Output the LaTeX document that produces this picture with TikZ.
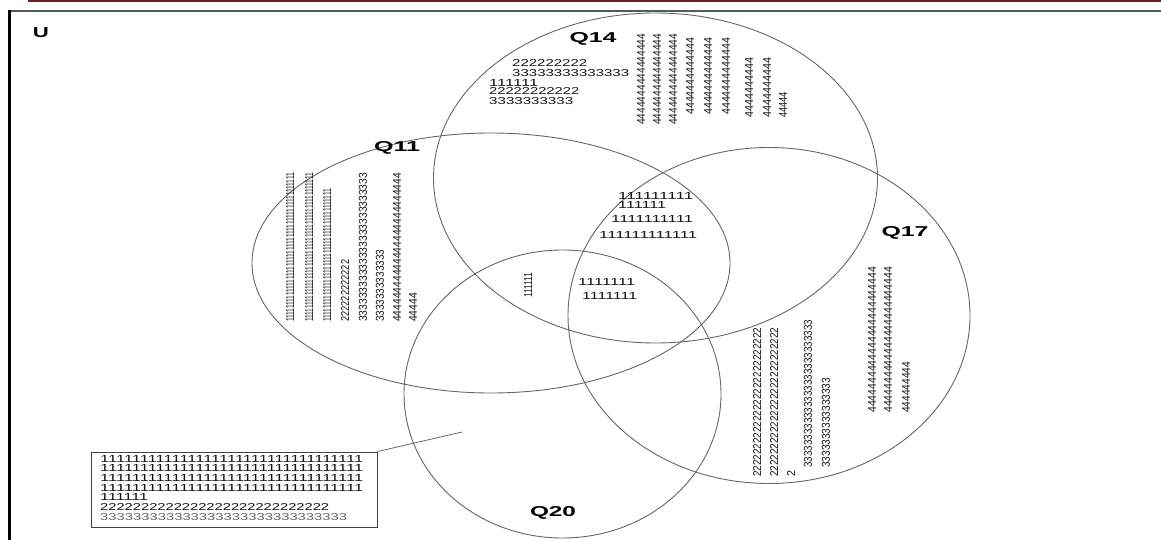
\documentclass[tikz,border=0pt]{standalone}
\usepackage{graphicx}
\usepackage{fontspec}
\setmainfont{Liberation Sans}
\usetikzlibrary{shapes.geometric}
\ExplSyntaxOn
\NewDocumentCommand{\rep}{mm}{\prg_replicate:nn{#1}{#2}}
\ExplSyntaxOff
\definecolor{venngray}{HTML}{666666}
\definecolor{numcol}{HTML}{141414}
\definecolor{topred}{HTML}{6B1E1E}
\newcommand{\hn}[2]{\resizebox{#1pt}{7pt}{#2}}
\newcommand{\vn}[2]{\resizebox{#1pt}{8pt}{#2}}
\newcommand{\lb}[2]{\resizebox{#1pt}{10pt}{\bfseries #2}}
\begin{document}
\begin{tikzpicture}[x=1pt,y=-1pt,
  venn/.style={draw=venngray, line width=0.9pt, ellipse, inner sep=0pt},
  lbl/.style={inner sep=0pt, text=black},
  num/.style={inner sep=0pt, text=numcol, anchor=west},
  colnum/.style={inner sep=0pt, text=numcol, rotate=90, anchor=west},
  boxstyle/.style={draw=black!75, line width=0.9pt, inner sep=0pt, minimum width=286pt, minimum height=75pt}
]
\useasboundingbox (0,0) rectangle (1161,540);
% frame
\draw[topred, line width=1.6pt] (28,0.8) -- (1161,0.8);
\draw[black!65, line width=2pt] (8,11.5) -- (1161,11.5);
\draw[black, line width=3pt] (9.5,10.5) -- (9.5,540);
% circles
\node[venn, minimum width=444pt, minimum height=330pt] (q14) at (655.5,178) {};
\node[venn, minimum width=478pt, minimum height=260pt] (q11) at (491,263) {};
\node[venn, minimum width=402pt, minimum height=336pt] (q17) at (769,315.5) {};
\node[venn, minimum width=317pt, minimum height=288pt] (q20) at (562.5,394) {};
% labels
\node[lbl] (u) at (41,33) {\lb{16}{U}};
\node[lbl] (l14) at (593,39) {\lb{47}{Q14}};
\node[lbl] (l11) at (397,148) {\lb{46}{Q11}};
\node[lbl] (l17) at (905,233) {\lb{47}{Q17}};
\node[lbl] (l20) at (553,513) {\lb{46}{Q20}};
% Q14 horizontal texts
\node[num] (a1) at (512,63) {\hn{75}{\rep{9}{2}}};
\node[num] (a2) at (512,73) {\hn{117}{\rep{14}{3}}};
\node[num] (a3) at (489,83) {\hn{49}{\rep{6}{1}}};
\node[num] (a4) at (489,91) {\hn{90}{\rep{11}{2}}};
\node[num] (a5) at (489,101) {\hn{84}{\rep{10}{3}}};
% Q14 columns
\node[colnum] (b1) at (641,125) {\vn{91}{\rep{16}{4}}};
\node[colnum] (b2) at (657,125) {\vn{91}{\rep{16}{4}}};
\node[colnum] (b3) at (673,125) {\vn{91}{\rep{16}{4}}};
\node[colnum] (b4) at (690,115) {\vn{77}{\rep{13}{4}}};
\node[colnum] (b5) at (708,115) {\vn{77}{\rep{13}{4}}};
\node[colnum] (b6) at (726,115) {\vn{77}{\rep{13}{4}}};
\node[colnum] (b7) at (749,118) {\vn{60}{\rep{10}{4}}};
\node[colnum] (b8) at (767,118) {\vn{60}{\rep{10}{4}}};
\node[colnum] (b9) at (783,118) {\vn{26}{\rep{5}{4}}};
% Q11 columns
\node[colnum] (c1) at (290,322) {\vn{149}{\rep{46}{1}}};
\node[colnum] (c2) at (309,322) {\vn{149}{\rep{46}{1}}};
\node[colnum] (c3) at (327,322) {\vn{133}{\rep{41}{1}}};
\node[colnum] (c4) at (345,322) {\vn{62}{\rep{12}{2}}};
\node[colnum] (c5) at (363,322) {\vn{149}{\rep{26}{3}}};
\node[colnum] (c6) at (380,322) {\vn{72}{\rep{13}{3}}};
\node[colnum] (c7) at (397,322) {\vn{149}{\rep{26}{4}}};
\node[colnum] (c8) at (413,322) {\vn{29}{\rep{5}{4}}};
% centre texts
\node[num] (d1) at (618,196) {\hn{75}{\rep{9}{1}}};
\node[num] (d2) at (618,205) {\hn{48}{\rep{6}{1}}};
\node[num] (d3) at (611,219) {\hn{82}{\rep{10}{1}}};
\node[num] (d4) at (599,235) {\hn{98}{\rep{12}{1}}};
\node[num] (d5) at (578,282) {\hn{57}{\rep{7}{1}}};
\node[num] (d6) at (582,296) {\hn{55}{\rep{7}{1}}};
\node[colnum] (d7) at (528,298) {\vn{25}{\rep{6}{1}}};
% Q17 columns
\node[colnum] (e1) at (757,477) {\vn{149}{\rep{27}{2}}};
\node[colnum] (e2) at (774,477) {\vn{149}{\rep{27}{2}}};
\node[colnum] (e3) at (791,477) {\vn{6}{2}};
\node[colnum] (e4) at (808,468) {\vn{148}{\rep{27}{3}}};
\node[colnum] (e5) at (826,468) {\vn{90}{\rep{16}{3}}};
\node[colnum] (e6) at (872,413) {\vn{146}{\rep{25}{4}}};
\node[colnum] (e7) at (888,413) {\vn{146}{\rep{25}{4}}};
\node[colnum] (e8) at (906,413) {\vn{51}{\rep{9}{4}}};
% box
\node[boxstyle] (box) at (234,489.5) {};
\node[num] (f1) at (100,459) {\hn{263}{\rep{33}{1}}};
\node[num] (f2) at (100,468) {\hn{263}{\rep{33}{1}}};
\node[num] (f3) at (100,478) {\hn{263}{\rep{33}{1}}};
\node[num] (f4) at (100,488) {\hn{263}{\rep{33}{1}}};
\node[num] (f5) at (100,497) {\hn{48}{\rep{6}{1}}};
\node[num] (f6) at (100,507) {\hn{229}{\rep{28}{2}}};
\node[num, text=black!60] (f7) at (100,517) {\hn{247}{\rep{30}{3}}};
\coordinate (tip) at (462,432);
\draw[venngray, line width=0.8pt] (box.north east) -- (tip);
\end{tikzpicture}
\end{document}
